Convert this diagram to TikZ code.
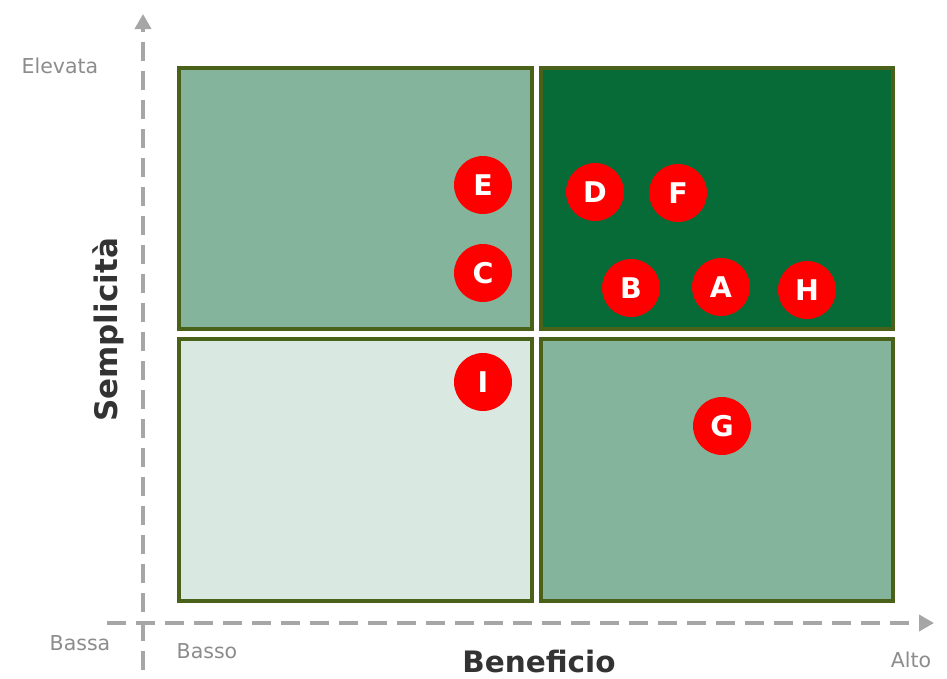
\documentclass[tikz,border=0pt]{standalone}
\usepackage{fontspec}
\setmainfont{DejaVu Sans}
\usetikzlibrary{arrows.meta}
\definecolor{axisgray}{HTML}{A6A6A6}
\definecolor{labelgray}{HTML}{8C8C8C}
\definecolor{olive}{HTML}{4A6119}
\definecolor{midgreen}{HTML}{84B59C}
\definecolor{darkgreen}{HTML}{076B38}
\definecolor{palegreen}{HTML}{D9E8E0}
\definecolor{titlegray}{HTML}{333333}
\tikzset{
  quad/.style={draw=olive, line width=4pt},
  axis/.style={draw=axisgray, line width=3.5pt, dash pattern=on 19pt off 10pt, -{Triangle[length=15pt,width=16pt]}},
  pt/.style={circle, fill=red, minimum size=58pt, inner sep=0pt, text=white, font=\fontsize{28.5}{28.5}\selectfont\bfseries},
  lab/.style={text=labelgray, font=\fontsize{20.5}{20.5}\selectfont, inner sep=0pt},
  ttl/.style={text=titlegray, font=\fontsize{29.5}{29.5}\selectfont\bfseries, inner sep=0pt}
}
\begin{document}
\begin{tikzpicture}[x=1pt,y=-1pt]
\useasboundingbox (0,0) rectangle (947,678);
\fill[white] (0,0) rectangle (947,678);
\coordinate (v0) at (143,670);
\coordinate (v1) at (143,14);
\coordinate (h0) at (107,623);
\coordinate (h1) at (934,623);
\draw[axis] (v0) -- (v1);
\draw[axis] (h0) -- (h1);
\draw[quad, fill=midgreen] (179,67.5) rectangle (531.5,329);
\draw[quad, fill=darkgreen] (541,67.5) rectangle (893,329);
\draw[quad, fill=palegreen] (179,339) rectangle (531.5,601);
\draw[quad, fill=midgreen] (541,339) rectangle (893,601);
\node[pt] (E) at (483,185) {E};
\node[pt] (C) at (483,273) {C};
\node[pt] (D) at (595,192) {D};
\node[pt] (F) at (678,193) {F};
\node[pt] (B) at (631,288) {B};
\node[pt] (A) at (721,287) {A};
\node[pt] (H) at (807,290) {H};
\node[pt] (I) at (483,382) {I};
\node[pt] (G) at (722,426) {G};
\node[lab] (elev) at (60,66) {Elevata};
\node[lab] (bassa) at (80,643) {Bassa};
\node[lab] (basso) at (207,651) {Basso};
\node[lab] (alto) at (911,660) {Alto};
\node[ttl] (ben) at (539,661) {Beneficio};
\node[ttl, font=\fontsize{31}{31}\selectfont\bfseries, rotate=90] (sem) at (108,330) {Semplicità};
\end{tikzpicture}
\end{document}
